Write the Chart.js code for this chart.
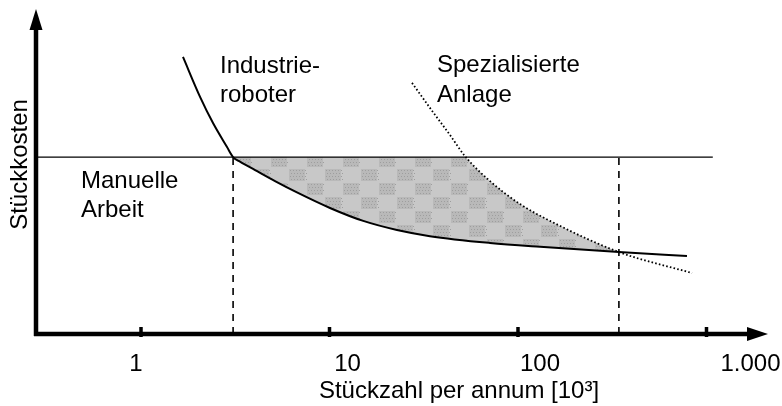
<!DOCTYPE html>
<html>
<head>
<meta charset="utf-8">
<script src="https://cdn.jsdelivr.net/npm/chart.js@4.4.0/dist/chart.umd.min.js"></script>
<style>
  html, body { margin: 0; padding: 0; background: #fff; }
  #wrap { width: 782px; height: 406px; }
</style>
</head>
<body>
<div id="wrap"><canvas id="costChart" width="782" height="406"></canvas></div>
<script>
// x = Stückzahl per annum [10^3] (log), y = Stückkosten (relative units)
var manualX = [0.2773, 1080];
var manualY = [54.6, 54.6];

var robotX = [1.67, 2.06, 2.41, 2.86, 3.08, 3.35, 4.03, 5.14, 6.72, 10.06, 15.1, 22.8, 34.1, 71.0, 131, 343, 788];
var robotY = [85.5, 73.1, 65.1, 57.7, 54.6, 53.2, 50.6, 47.2, 43.7, 38.9, 34.9, 32.1, 30.2, 28.1, 26.9, 25.3, 24.1];

var specialX = [27.4, 35.4, 43.6, 52.3, 71.0, 102.5, 148, 343, 838];
var specialY = [77.5, 68.5, 61.4, 54.9, 47.2, 40.1, 34.9, 25.3, 18.8];

// break-even points (robot / manual, robot / special)
var breakX = [3.08, 343];
var breakY = 54.6;

var tickValues = [1, 10, 100, 1000];
var tickLabels = ['1', '10', '100', '1.000'];

var FONT = '24px "Liberation Sans", Arial, sans-serif';

function zip(xs, ys) {
    return xs.map(function (x, i) { return { x: x, y: ys[i] }; });
}

function makePattern(ctx) {
    var tile = document.createElement('canvas');
    tile.width = 36;
    tile.height = 28;
    var t = tile.getContext('2d');
    t.fillStyle = '#c8c8c8';
    t.fillRect(0, 0, 36, 28);
    [[0, 0], [18, 14]].forEach(function (c) {
        t.fillStyle = '#b9b9b9';
        t.fillRect(c[0] + 1, c[1] + 1, 16, 12);
        t.fillStyle = '#9e9e9e';
        for (var yy = 0; yy < 12; yy += 3) {
            for (var xx = 0; xx < 16; xx += 3) {
                t.fillRect(c[0] + 2 + xx + (yy % 6 ? 1 : 0), c[1] + 2 + yy, 1, 1);
            }
        }
    });
    return ctx.createPattern(tile, 'repeat');
}

// gray area: below manual line, above robot curve, below special curve
var areaPlugin = {
    id: 'area',
    beforeDatasetsDraw: function (chart) {
        var ctx = chart.ctx, a = chart.chartArea;
        var y = chart.scales.y;
        var robot = chart.getDatasetMeta(1).dataset;
        var special = chart.getDatasetMeta(2).dataset;
        robot.updateControlPoints(a, 'x');
        special.updateControlPoints(a, 'x');
        var rp = robot.points, sp = special.points;

        ctx.save();
        ctx.beginPath();
        ctx.rect(a.left, y.getPixelForValue(manualY[0]), a.right - a.left, a.bottom - y.getPixelForValue(manualY[0]));
        ctx.clip();

        ctx.beginPath();
        robot.path(ctx);
        ctx.lineTo(rp[rp.length - 1].x, a.top);
        ctx.lineTo(rp[0].x, a.top);
        ctx.closePath();
        ctx.clip();

        ctx.beginPath();
        special.path(ctx);
        ctx.lineTo(sp[sp.length - 1].x, a.bottom);
        ctx.lineTo(a.left, a.bottom);
        ctx.lineTo(a.left, a.top);
        ctx.lineTo(sp[0].x, a.top);
        ctx.closePath();
        ctx.clip();

        ctx.fillStyle = makePattern(ctx);
        ctx.fillRect(a.left, a.top, a.right - a.left, a.bottom - a.top);
        ctx.restore();
    }
};

// axes with arrows, ticks, labels and titles
var decorPlugin = {
    id: 'decor',
    afterDraw: function (chart) {
        var ctx = chart.ctx, a = chart.chartArea;
        var x = chart.scales.x;
        var ax = a.left, ay = a.bottom;
        ctx.save();
        ctx.strokeStyle = '#000';
        ctx.fillStyle = '#000';
        ctx.lineWidth = 4.5;

        // y axis
        ctx.beginPath();
        ctx.moveTo(ax, ay + 2);
        ctx.lineTo(ax, 28);
        ctx.stroke();
        ctx.beginPath();
        ctx.moveTo(ax, 9);
        ctx.lineTo(ax - 6.5, 30);
        ctx.lineTo(ax + 6.5, 30);
        ctx.closePath();
        ctx.fill();

        // x axis
        ctx.beginPath();
        ctx.moveTo(ax - 2, ay);
        ctx.lineTo(750, ay);
        ctx.stroke();
        ctx.beginPath();
        ctx.moveTo(768, ay);
        ctx.lineTo(747, ay - 7);
        ctx.lineTo(747, ay + 7);
        ctx.closePath();
        ctx.fill();

        // ticks and tick labels
        var nudge = [-5, 18, 22, 44];
        ctx.font = FONT;
        ctx.textAlign = 'center';
        ctx.textBaseline = 'alphabetic';
        tickValues.forEach(function (v, i) {
            var px = x.getPixelForValue(v);
            ctx.fillRect(px - 1.75, ay - 7, 3.5, 10);
            ctx.fillText(tickLabels[i], px + nudge[i], 371);
        });

        // axis titles
        ctx.fillText('Stückzahl per annum [10³]', 459, 398);
        ctx.save();
        ctx.translate(26.5, 164.5);
        ctx.rotate(-Math.PI / 2);
        ctx.fillText('Stückkosten', 0, 0);
        ctx.restore();

        // curve labels
        ctx.textAlign = 'left';
        ctx.fillText('Industrie-', 220, 73);
        ctx.fillText('roboter', 220, 102);
        ctx.fillText('Spezialisierte', 437, 72);
        ctx.fillText('Anlage', 437, 102);
        ctx.fillText('Manuelle', 81, 188);
        ctx.fillText('Arbeit', 81, 217);
        ctx.restore();
    }
};

var ctx = document.getElementById('costChart').getContext('2d');
new Chart(ctx, {
    type: 'line',
    data: {
        datasets: [{
            label: 'Manuelle Arbeit',
            data: zip(manualX, manualY),
            borderColor: '#000',
            borderWidth: 1.4
        }, {
            label: 'Industrieroboter',
            data: zip(robotX, robotY),
            borderColor: '#000',
            borderWidth: 2,
            cubicInterpolationMode: 'monotone'
        }, {
            label: 'Spezialisierte Anlage',
            data: zip(specialX, specialY),
            borderColor: '#000',
            borderWidth: 1.8,
            borderDash: [1.6, 2.2],
            cubicInterpolationMode: 'monotone'
        }, {
            label: 'Break-even 1',
            data: [{ x: breakX[0], y: 0 }, { x: breakX[0], y: breakY }],
            borderColor: '#000',
            borderWidth: 1.6,
            borderDash: [7, 6]
        }, {
            label: 'Break-even 2',
            data: [{ x: breakX[1], y: 0 }, { x: breakX[1], y: breakY }],
            borderColor: '#000',
            borderWidth: 1.6,
            borderDash: [7, 6]
        }]
    },
    options: {
        responsive: false,
        animation: false,
        elements: { point: { radius: 0 } },
        layout: { padding: { left: 36, right: 15, top: 10, bottom: 72 } },
        scales: {
            x: { type: 'logarithmic', min: 0.2773, max: 2094, display: false },
            y: { type: 'linear', min: 0, max: 100, display: false }
        },
        plugins: {
            legend: { display: false },
            tooltip: { enabled: false }
        }
    },
    plugins: [areaPlugin, decorPlugin]
});
</script>
</body>
</html>
